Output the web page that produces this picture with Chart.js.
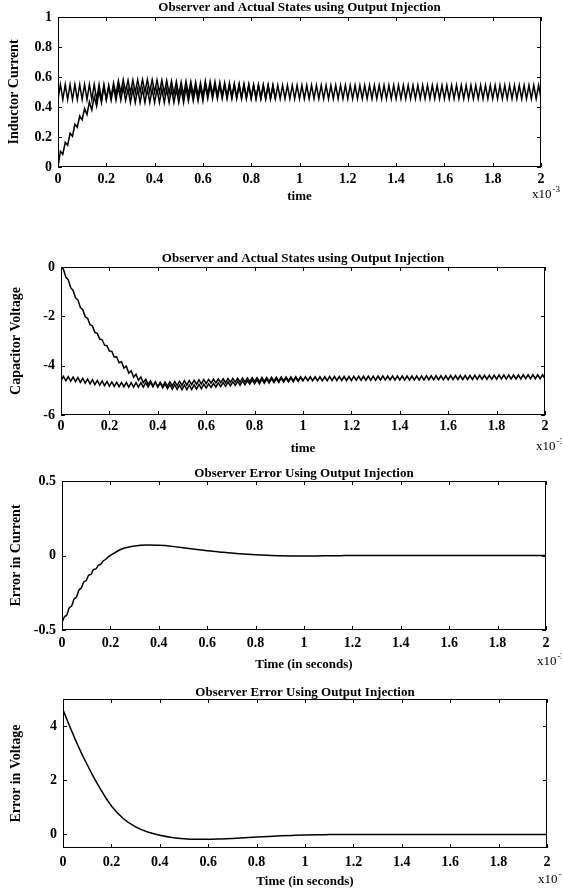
<!DOCTYPE html>
<html>
<head>
<meta charset="utf-8">
<script src="https://cdn.jsdelivr.net/npm/chart.js@4.4.1/dist/chart.umd.min.js"></script>
<style>
  html, body { margin: 0; padding: 0; background: #fff; }
  body { width: 562px; height: 895px; position: relative; overflow: hidden; }
  canvas { position: absolute; left: 0; }
</style>
</head>
<body>
<canvas id="p1" width="562" height="205" style="top:0px"></canvas>
<canvas id="p2" width="562" height="218" style="top:240px"></canvas>
<canvas id="p3" width="562" height="215" style="top:465px"></canvas>
<canvas id="p4" width="562" height="215" style="top:680px"></canvas>
<script>
// time in units of 1e-3 s (axis shows x10^-3), one sample per half ripple period
var tMs = [
  0,0.01,0.02,0.03,0.04,0.05,0.06,0.07,0.08,0.09,
  0.1,0.11,0.12,0.13,0.14,0.15,0.16,0.17,0.18,0.19,
  0.2,0.21,0.22,0.23,0.24,0.25,0.26,0.27,0.28,0.29,
  0.3,0.31,0.32,0.33,0.34,0.35,0.36,0.37,0.38,0.39,
  0.4,0.41,0.42,0.43,0.44,0.45,0.46,0.47,0.48,0.49,
  0.5,0.51,0.52,0.53,0.54,0.55,0.56,0.57,0.58,0.59,
  0.6,0.61,0.62,0.63,0.64,0.65,0.66,0.67,0.68,0.69,
  0.7,0.71,0.72,0.73,0.74,0.75,0.76,0.77,0.78,0.79,
  0.8,0.81,0.82,0.83,0.84,0.85,0.86,0.87,0.88,0.89,
  0.9,0.91,0.92,0.93,0.94,0.95,0.96,0.97,0.98,0.99,
  1,1.01,1.02,1.03,1.04,1.05,1.06,1.07,1.08,1.09,
  1.1,1.11,1.12,1.13,1.14,1.15,1.16,1.17,1.18,1.19,
  1.2,1.21,1.22,1.23,1.24,1.25,1.26,1.27,1.28,1.29,
  1.3,1.31,1.32,1.33,1.34,1.35,1.36,1.37,1.38,1.39,
  1.4,1.41,1.42,1.43,1.44,1.45,1.46,1.47,1.48,1.49,
  1.5,1.51,1.52,1.53,1.54,1.55,1.56,1.57,1.58,1.59,
  1.6,1.61,1.62,1.63,1.64,1.65,1.66,1.67,1.68,1.69,
  1.7,1.71,1.72,1.73,1.74,1.75,1.76,1.77,1.78,1.79,
  1.8,1.81,1.82,1.83,1.84,1.85,1.86,1.87,1.88,1.89,
  1.9,1.91,1.92,1.93,1.94,1.95,1.96,1.97,1.98,1.99,
  2
];

// panel 1: actual inductor current (ripple) and observer estimate
var iActual = [
  0.45,0.55,0.45,0.55,0.45,0.55,0.45,0.55,0.45,0.55,
  0.45,0.55,0.45,0.55,0.45,0.55,0.45,0.55,0.45,0.55,
  0.45,0.535,0.445,0.535,0.445,0.535,0.445,0.535,0.445,0.52,
  0.43,0.52,0.43,0.52,0.43,0.52,0.43,0.52,0.43,0.52,
  0.43,0.52,0.43,0.52,0.43,0.52,0.43,0.52,0.43,0.52,
  0.43,0.52,0.43,0.53,0.44,0.53,0.44,0.53,0.44,0.53,
  0.44,0.545,0.455,0.545,0.455,0.545,0.455,0.545,0.455,0.545,
  0.455,0.545,0.455,0.545,0.455,0.545,0.455,0.545,0.455,0.545,
  0.455,0.545,0.455,0.545,0.455,0.545,0.455,0.545,0.455,0.545,
  0.455,0.545,0.455,0.545,0.455,0.545,0.455,0.545,0.455,0.545,
  0.455,0.545,0.455,0.545,0.455,0.545,0.455,0.545,0.455,0.545,
  0.455,0.545,0.455,0.545,0.455,0.545,0.455,0.545,0.455,0.545,
  0.455,0.545,0.455,0.545,0.455,0.545,0.455,0.545,0.455,0.545,
  0.455,0.545,0.455,0.545,0.455,0.545,0.455,0.545,0.455,0.545,
  0.455,0.545,0.455,0.545,0.455,0.545,0.455,0.545,0.455,0.545,
  0.455,0.545,0.455,0.545,0.455,0.545,0.455,0.545,0.455,0.545,
  0.455,0.545,0.455,0.545,0.455,0.545,0.455,0.545,0.455,0.545,
  0.455,0.545,0.455,0.545,0.455,0.545,0.455,0.545,0.455,0.545,
  0.455,0.545,0.455,0.545,0.455,0.545,0.455,0.545,0.455,0.545,
  0.455,0.545,0.455,0.545,0.455,0.545,0.455,0.545,0.455,0.545,
  0.455
];
// observer merges with the actual state by ~0.9e-3 s
var iObserver = [
  0,0.105,0.085,0.165,0.145,0.225,0.205,0.285,0.265,0.34,
  0.315,0.39,0.35,0.435,0.38,0.47,0.405,0.505,0.43,0.538,
  0.45,0.545,0.465,0.56,0.482,0.575,0.495,0.582,0.503,0.578,
  0.493,0.58,0.497,0.582,0.499,0.583,0.5,0.583,0.5,0.582,
  0.498,0.58,0.496,0.578,0.493,0.576,0.49,0.573,0.486,0.57,
  0.482,0.566,0.478,0.572,0.484,0.569,0.48,0.566,0.476,0.562,
  0.472,0.573,0.484,0.571,0.481,0.568,0.477,0.565,0.474,0.562,
  0.471,0.56,0.469,0.557,0.466,0.555,0.464,0.553,0.462,0.551,
  0.46,0.549,0.458,0.548,0.457,0.546,0.456,0.545,0.455,0.544,
  0.453
];

// panel 2: actual capacitor voltage (ripple) and observer estimate
var vActual = [
  -4.61,-4.43,-4.62,-4.44,-4.63,-4.46,-4.65,-4.48,-4.68,-4.51,
  -4.71,-4.54,-4.74,-4.57,-4.77,-4.6,-4.79,-4.62,-4.81,-4.64,
  -4.83,-4.66,-4.84,-4.67,-4.85,-4.68,-4.86,-4.68,-4.87,-4.69,
  -4.87,-4.69,-4.87,-4.69,-4.87,-4.69,-4.86,-4.68,-4.86,-4.67,
  -4.85,-4.67,-4.84,-4.66,-4.83,-4.65,-4.82,-4.64,-4.81,-4.63,
  -4.8,-4.61,-4.79,-4.6,-4.77,-4.59,-4.76,-4.57,-4.75,-4.56,
  -4.73,-4.56,-4.71,-4.55,-4.7,-4.54,-4.69,-4.53,-4.69,-4.52,
  -4.68,-4.52,-4.67,-4.51,-4.67,-4.5,-4.66,-4.5,-4.65,-4.49,
  -4.65,-4.49,-4.65,-4.48,-4.64,-4.48,-4.64,-4.47,-4.63,-4.47,
  -4.63,-4.46,-4.62,-4.46,-4.62,-4.46,-4.62,-4.45,-4.61,-4.45,
  -4.61,-4.45,-4.61,-4.45,-4.61,-4.45,-4.61,-4.45,-4.61,-4.45,
  -4.61,-4.44,-4.6,-4.44,-4.6,-4.44,-4.6,-4.44,-4.6,-4.44,
  -4.6,-4.43,-4.59,-4.43,-4.59,-4.43,-4.59,-4.43,-4.59,-4.43,
  -4.59,-4.42,-4.58,-4.42,-4.58,-4.42,-4.58,-4.42,-4.58,-4.42,
  -4.58,-4.42,-4.58,-4.42,-4.58,-4.42,-4.58,-4.42,-4.58,-4.42,
  -4.58,-4.41,-4.57,-4.41,-4.57,-4.41,-4.57,-4.41,-4.57,-4.41,
  -4.57,-4.4,-4.56,-4.4,-4.56,-4.4,-4.56,-4.4,-4.56,-4.4,
  -4.56,-4.39,-4.55,-4.39,-4.55,-4.39,-4.55,-4.39,-4.55,-4.39,
  -4.55,-4.38,-4.54,-4.38,-4.54,-4.38,-4.54,-4.38,-4.54,-4.38,
  -4.54,-4.37,-4.53,-4.37,-4.53,-4.37,-4.53,-4.37,-4.53,-4.37,
  -4.53
];
var vObserver = [
  0,-0.09,-0.41,-0.52,-0.84,-0.95,-1.25,-1.34,-1.64,-1.73,
  -2.02,-2.08,-2.34,-2.39,-2.65,-2.69,-2.92,-2.95,-3.17,-3.19,
  -3.41,-3.42,-3.65,-3.64,-3.88,-3.84,-4.1,-4.02,-4.3,-4.21,
  -4.47,-4.35,-4.59,-4.46,-4.69,-4.55,-4.76,-4.61,-4.82,-4.66,
  -4.87,-4.71,-4.9,-4.74,-4.93,-4.77,-4.95,-4.78,-4.96,-4.79,
  -4.97,-4.785,-4.97,-4.785,-4.96,-4.78,-4.95,-4.76,-4.935,-4.745,
  -4.91,-4.736,-4.882,-4.718,-4.864,-4.7,-4.846,-4.682,-4.838,-4.664,
  -4.82,-4.656,-4.802,-4.638,-4.794,-4.62,-4.774,-4.608,-4.752,-4.586,
  -4.74,-4.576,-4.732,-4.558,-4.714,-4.55,-4.706,-4.532,-4.688,-4.524,
  -4.68,-4.507,-4.664,-4.501,-4.658,-4.495,-4.652,-4.479,-4.636,-4.473,
  -4.63
];

// panels 3 and 4: observer errors (finer early on, where the current error steps)
var errTime = [
  0,0.01,0.02,0.03,0.04,0.05,0.06,0.07,0.08,0.09,
  0.1,0.11,0.12,0.13,0.14,0.15,0.16,0.17,0.18,0.19,
  0.2,0.25,0.3,0.35,0.4,0.45,0.5,0.55,0.6,0.65,0.7,0.75,0.8,0.85,0.9,0.95,
  1,1.05,1.1,1.15,1.2,1.4,1.6,1.8,2
];
var errCurrent = [
  -0.45,-0.412,-0.398,-0.352,-0.338,-0.292,-0.278,-0.232,-0.218,-0.177,
  -0.168,-0.133,-0.126,-0.094,-0.09,-0.066,-0.058,-0.037,-0.027,-0.011,
  0,0.045,0.063,0.07,0.068,0.062,0.052,0.042,0.032,0.024,0.016,0.01,0.005,0.001,-0.002,-0.003,
  -0.003,-0.003,-0.002,-0.001,0,0,0,0,0
];
var errVoltage = [
  4.6,4.38,4.16,3.94,3.73,3.52,3.32,3.12,2.93,2.75,
  2.58,2.4,2.23,2.06,1.9,1.75,1.6,1.45,1.31,1.18,
  1.05,0.58,0.28,0.09,-0.03,-0.11,-0.16,-0.18,-0.18,-0.165,-0.145,-0.12,-0.095,-0.072,-0.052,-0.035,
  -0.02,-0.01,-0.005,0,0,0,0,0,0
];

var xTicks = [0,0.2,0.4,0.6,0.8,1,1.2,1.4,1.6,1.8,2];
var yTicks1 = [0,0.2,0.4,0.6,0.8,1];
var yTicks2 = [-6,-4,-2,0];
var yTicks3 = [-0.5,0,0.5];
var yTicks4 = [0,2,4];

var titleA = 'Observer and Actual States using Output Injection';
var titleB = 'Observer Error Using Output Injection';

var serif = '"Liberation Serif", "Times New Roman", serif';
Chart.defaults.color = '#000';
Chart.defaults.font.family = serif;

// box with inward ticks on all four sides, panel title, x10^-3 exponent
var framePlugin = {
  id: 'frame',
  afterDraw: function (chart, args, opts) {
    var ctx = chart.ctx, a = chart.chartArea;
    var xs = chart.scales.x, ys = chart.scales.y;
    var len = 4;
    ctx.save();
    ctx.strokeStyle = '#000';
    ctx.lineWidth = 1;
    ctx.strokeRect(a.left + 0.5, a.top + 0.5, a.right - a.left - 1, a.bottom - a.top - 1);
    ctx.beginPath();
    xs.ticks.forEach(function (t) {
      var px = Math.round(xs.getPixelForValue(t.value)) + 0.5;
      ctx.moveTo(px, a.bottom); ctx.lineTo(px, a.bottom - len);
      ctx.moveTo(px, a.top); ctx.lineTo(px, a.top + len);
    });
    ys.ticks.forEach(function (t) {
      var py = Math.round(ys.getPixelForValue(t.value)) + 0.5;
      ctx.moveTo(a.left, py); ctx.lineTo(a.left + len, py);
      ctx.moveTo(a.right, py); ctx.lineTo(a.right - len, py);
    });
    ctx.stroke();

    ctx.fillStyle = '#000';
    ctx.textAlign = 'center';
    ctx.textBaseline = 'middle';
    ctx.font = 'bold 13px ' + serif;
    ctx.fillText(opts.title, (a.left + a.right) / 2, opts.titleY);

    ctx.textAlign = 'left';
    ctx.font = '13px ' + serif;
    var ex = a.right - 9;
    ctx.fillText('x10', ex, opts.expY);
    var w = ctx.measureText('x10').width;
    ctx.font = '9px ' + serif;
    ctx.fillText('-3', ex + w + 1, opts.expY - 5);
    ctx.restore();
  }
};

function fmt(v) { return String(Math.round(v * 10) / 10); }

function makePanel(id, cfg) {
  var tickFont = { family: serif, size: 14, weight: 'bold' };
  return new Chart(document.getElementById(id), {
    type: 'line',
    data: { labels: cfg.labels, datasets: cfg.datasets },
    options: {
      responsive: false,
      animation: false,
      events: [],
      layout: { padding: { left: 0, right: cfg.padRight, top: cfg.padTop, bottom: 0 } },
      elements: { point: { radius: 0 }, line: { borderColor: '#000', borderWidth: 1.5, tension: 0 } },
      plugins: {
        legend: { display: false },
        tooltip: { enabled: false },
        frame: { title: cfg.title, titleY: cfg.titleY, expY: cfg.expY }
      },
      scales: {
        x: {
          type: 'linear', min: 0, max: 2,
          grid: { display: false, drawTicks: false }, border: { display: false },
          afterBuildTicks: function (s) { s.ticks = xTicks.map(function (v) { return { value: v }; }); },
          afterFit: function (s) { s.height = cfg.xHeight; },
          ticks: { font: tickFont, padding: cfg.xTickPad, maxRotation: 0, autoSkip: false, callback: fmt },
          title: { display: true, text: cfg.xTitle, font: { family: serif, size: 13, weight: 'bold' },
                   padding: { top: 0, bottom: cfg.xTitlePad } }
        },
        y: {
          min: cfg.yMin, max: cfg.yMax,
          grid: { display: false, drawTicks: false }, border: { display: false },
          afterBuildTicks: function (s) { s.ticks = cfg.yTicks.map(function (v) { return { value: v }; }); },
          afterFit: function (s) { s.width = cfg.yWidth; },
          ticks: { font: tickFont, padding: 6, autoSkip: false, callback: fmt },
          title: { display: true, text: cfg.yTitle, font: { family: serif, size: 14, weight: 'bold' },
                   padding: { top: cfg.yTitlePad, bottom: 0 } }
        }
      }
    },
    plugins: [framePlugin]
  });
}

makePanel('p1', {
  labels: tMs,
  datasets: [
    { data: iActual },
    { data: iObserver }
  ],
  yMin: 0, yMax: 1, yTicks: yTicks1,
  title: titleA, titleY: 8, expY: 195,
  xTitle: 'time', yTitle: 'Inductor Current',
  padTop: 17, padRight: 21, xHeight: 38, yWidth: 58, xTitlePad: 1, yTitlePad: 6, xTickPad: 4
});

makePanel('p2', {
  labels: tMs,
  datasets: [
    { data: vActual },
    { data: vObserver }
  ],
  yMin: -6, yMax: 0, yTicks: yTicks2,
  title: titleA, titleY: 19, expY: 207,
  xTitle: 'time', yTitle: 'Capacitor Voltage',
  padTop: 27, padRight: 17, xHeight: 43, yWidth: 61, xTitlePad: 2, yTitlePad: 8, xTickPad: 3
});

makePanel('p3', {
  labels: errTime,
  datasets: [
    { data: errCurrent, cubicInterpolationMode: 'monotone' }
  ],
  yMin: -0.5, yMax: 0.5, yTicks: yTicks3,
  title: titleB, titleY: 9, expY: 197,
  xTitle: 'Time (in seconds)', yTitle: 'Error in Current',
  padTop: 16, padRight: 16, xHeight: 50, yWidth: 62, xTitlePad: 8, yTitlePad: 8, xTickPad: 5
});

makePanel('p4', {
  labels: errTime,
  datasets: [
    { data: errVoltage, cubicInterpolationMode: 'monotone' }
  ],
  yMin: -0.5, yMax: 5, yTicks: yTicks4,
  title: titleB, titleY: 13, expY: 200,
  xTitle: 'Time (in seconds)', yTitle: 'Error in Voltage',
  padTop: 19, padRight: 15, xHeight: 47, yWidth: 63, xTitlePad: 6, yTitlePad: 8, xTickPad: 6
});
</script>
</body>
</html>
